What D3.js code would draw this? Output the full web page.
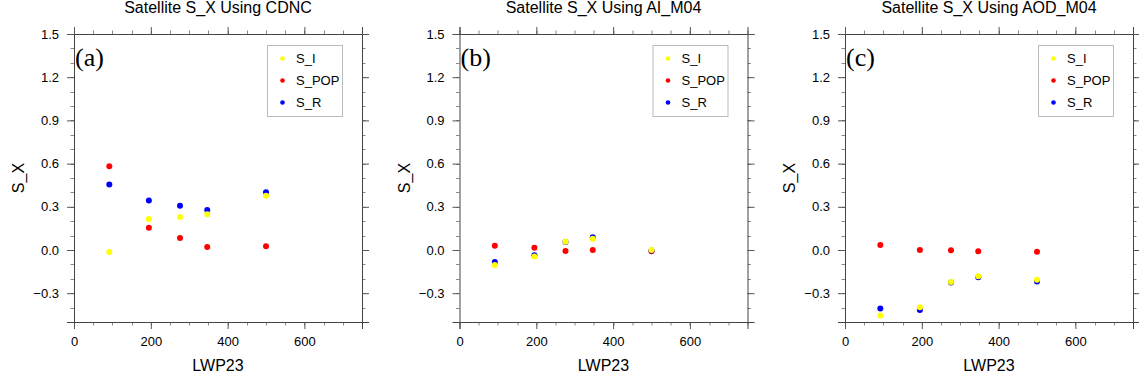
<!DOCTYPE html>
<html>
<head>
<meta charset="utf-8">
<script src="https://cdn.jsdelivr.net/npm/d3@7"></script>
<style>
  body { margin: 0; background: #fff; }
  text { font-family: "Liberation Sans", Arial, sans-serif; fill: #000; }
</style>
</head>
<body>
<div id="my_dataviz"></div>
<script>
// data
var lwp = [92, 195, 276, 347, 500];

var titles = ["Satellite S_X Using CDNC", "Satellite S_X Using AI_M04", "Satellite S_X Using AOD_M04"];
var panelLabels = ["(a)", "(b)", "(c)"];
var seriesNames = ["S_I", "S_POP", "S_R"];
var seriesColors = ["#ffff00", "#ff0000", "#0000ff"];

var sI_cdnc   = [-0.014, 0.215, 0.229, 0.248, 0.377];
var sPOP_cdnc = [0.581, 0.155, 0.083, 0.021, 0.026];
var sR_cdnc   = [0.454, 0.343, 0.308, 0.278, 0.401];

var sI_ai   = [-0.104, -0.046, 0.058, 0.078, 0.000];
var sPOP_ai = [0.030, 0.016, -0.007, 0.000, -0.008];
var sR_ai   = [-0.083, -0.037, 0.055, 0.088, -0.004];

var sI_aod   = [-0.454, -0.398, -0.222, -0.183, -0.206];
var sPOP_aod = [0.035, 0.000, -0.002, -0.009, -0.012];
var sR_aod   = [-0.407, -0.417, -0.225, -0.190, -0.218];

var xTicks = [0, 200, 400, 600];
var yTicks = [-0.3, 0.0, 0.3, 0.6, 0.9, 1.2, 1.5];

var panelData = [
  {S_I: sI_cdnc, S_POP: sPOP_cdnc, S_R: sR_cdnc},
  {S_I: sI_ai, S_POP: sPOP_ai, S_R: sR_ai},
  {S_I: sI_aod, S_POP: sPOP_aod, S_R: sR_aod}
];

// layout
var plotW = 288, plotH = 288, plotTop = 34;
var plotLefts = [74, 459.5, 845];

var svg = d3.select("#my_dataviz")
  .append("svg")
    .attr("width", 1139)
    .attr("height", 380);

var x = d3.scaleLinear().domain([0, 750]).range([0, plotW]);
var y = d3.scaleLinear().domain([-0.5, 1.5]).range([plotH, 0]);

var minorX = d3.range(0, 751, 50);
var minorY = d3.range(-5, 16).map(function(d) { return d / 10; });

panelData.forEach(function(pd, i) {
  var g = svg.append("g")
    .attr("transform", "translate(" + plotLefts[i] + "," + plotTop + ")");

  // minor ticks, outward on all four sides
  var minor = g.append("g").attr("stroke", "#888").attr("stroke-width", 1);
  minorX.forEach(function(v) {
    var px = Math.round(x(v)) + 0.5;
    minor.append("line").attr("x1", px).attr("x2", px).attr("y1", plotH).attr("y2", plotH + 3.5);
    minor.append("line").attr("x1", px).attr("x2", px).attr("y1", 0).attr("y2", -3.5);
  });
  minorY.forEach(function(v) {
    var py = Math.round(y(v)) + 0.5;
    minor.append("line").attr("x1", 0).attr("x2", -3.5).attr("y1", py).attr("y2", py);
    minor.append("line").attr("x1", plotW).attr("x2", plotW + 3.5).attr("y1", py).attr("y2", py);
  });

  // axes with major ticks outward
  var bottom = g.append("g")
    .attr("transform", "translate(0," + plotH + ")")
    .call(d3.axisBottom(x).tickValues(xTicks).tickSize(7).tickPadding(8).tickFormat(d3.format("d")));
  var top = g.append("g")
    .call(d3.axisTop(x).tickValues(xTicks).tickSize(7).tickFormat(""));
  var left = g.append("g")
    .call(d3.axisLeft(y).tickValues(yTicks).tickSize(7).tickPadding(8).tickFormat(d3.format(".1f")));
  var right = g.append("g")
    .attr("transform", "translate(" + plotW + ",0)")
    .call(d3.axisRight(y).tickValues(yTicks).tickSize(7).tickFormat(""));

  [bottom, top, left, right].forEach(function(a) {
    a.select(".domain").attr("stroke", "#444");
    a.selectAll(".tick line").attr("stroke", "#555");
    a.selectAll("text")
      .style("font-family", "'Liberation Sans', Arial, sans-serif")
      .style("font-size", "13px")
      .attr("fill", "#000");
  });

  // points: S_POP, S_R, then S_I on top
  ["S_POP", "S_R", "S_I"].forEach(function(name) {
    var col = seriesColors[seriesNames.indexOf(name)];
    g.append("g").selectAll("circle")
      .data(pd[name])
      .enter()
      .append("circle")
        .attr("cx", function(d, j) { return x(lwp[j]); })
        .attr("cy", function(d) { return y(d); })
        .attr("r", 3)
        .attr("fill", col);
  });

  // legend box
  var lg = g.append("g").attr("transform", "translate(" + (plotW - 95) + ",11)");
  lg.append("rect")
    .attr("x", 0.5).attr("y", 0.5)
    .attr("width", 75).attr("height", 71)
    .attr("fill", "#fff")
    .attr("stroke", "#bbb");
  seriesNames.forEach(function(name, k) {
    var ly = 13.5 + k * 22;
    lg.append("circle")
      .attr("cx", 15.5).attr("cy", ly)
      .attr("r", 2.3)
      .attr("fill", seriesColors[k]);
    lg.append("text")
      .attr("x", 29).attr("y", ly)
      .attr("dy", "0.36em")
      .style("font-size", "13px")
      .text(name);
  });

  // panel letter
  g.append("text")
    .attr("x", 1).attr("y", 32)
    .style("font-family", "'Liberation Serif', 'Times New Roman', serif")
    .style("font-size", "26px")
    .text(panelLabels[i]);

  // title
  g.append("text")
    .attr("x", plotW / 2).attr("y", -21)
    .style("text-anchor", "middle")
    .style("font-size", "16px")
    .text(titles[i]);

  // x label
  g.append("text")
    .attr("x", plotW / 2).attr("y", plotH + 49)
    .style("text-anchor", "middle")
    .style("font-size", "16px")
    .text("LWP23");

  // y label
  g.append("text")
    .attr("transform", "rotate(-90)")
    .attr("x", -plotH / 2)
    .attr("y", -50)
    .style("text-anchor", "middle")
    .style("font-size", "16px")
    .text("S_X");
});
</script>
</body>
</html>
